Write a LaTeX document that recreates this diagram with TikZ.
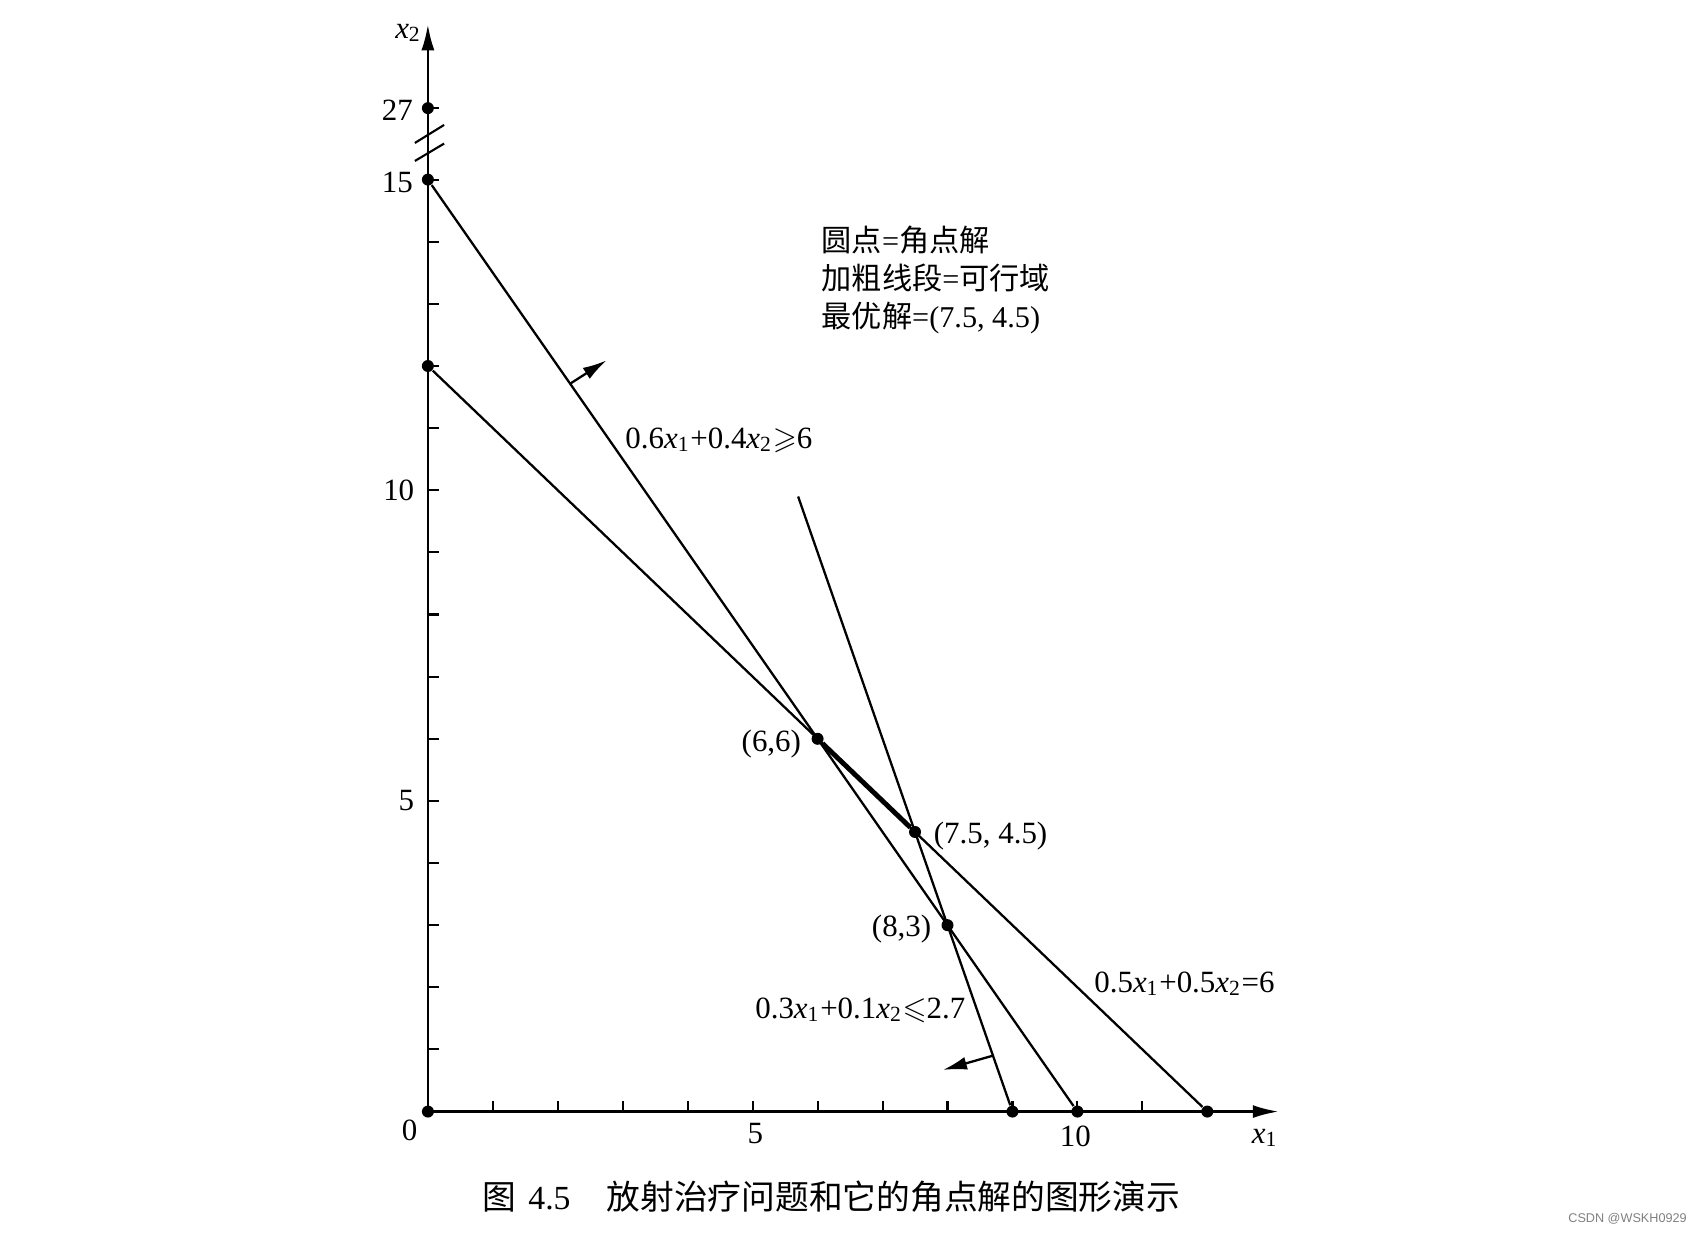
\documentclass[tikz,border=0pt]{standalone}
\usepackage{amssymb}
\usepackage{fontspec}
\setmainfont{Liberation Serif}
\newfontfamily\cjk{Noto Sans CJK SC}
\newfontfamily\wmfont{Liberation Sans}
\usetikzlibrary{calc, arrows.meta}
\newcommand{\xv}[1]{\textit{x}\textsubscript{#1}}

\begin{document}
\begin{tikzpicture}[x=0.6495cm, y=0.6213cm,
        dot/.style={circle, fill, inner sep=0pt, minimum size=0.12cm},
        lbl/.style={font=\fontsize{8.8}{10}\selectfont, inner sep=0pt},
        cline/.style={line width=0.65pt},
        axis/.style={line width=0.75pt, -{Latex[length=2.6mm,width=1.3mm]}},
        nrm/.style={line width=0.65pt, -{Latex[length=2.4mm,width=1.3mm]}}]
    \useasboundingbox (-6.588,-1.948) rectangle (19.632,17.891);
    % axes
    \coordinate (o) at (0,0);
    \coordinate (xend) at (13.1,0);
    \coordinate (yend) at (0,17.5);
    \draw[axis] (o)--(xend);
    \draw[axis] (o)--(yend);
    \foreach \i in {1,...,11} \draw[line width=0.6pt] (\i,0)--++(0,0.11cm);
    \foreach \i in {1,...,15} \draw[line width=0.6pt] (0,\i)--++(0.11cm,0);
    \draw[line width=0.6pt] (0,16.15)--++(0.11cm,0);
    % axis break
    \draw[line width=0.6pt] (-0.2,15.59)--(0.25,15.88);
    \draw[line width=0.6pt] (-0.2,15.30)--(0.25,15.58);
    % axis labels
    \node[lbl] (x2lab) at (-0.30,17.36) {\textit{x}\textsubscript{2}};
    \node[lbl] (x1lab) at (12.89,-0.42) {\textit{x}\textsubscript{1}};
    \node[lbl] (t0) at (-0.28,-0.31) {0};
    \node[lbl] (t5x) at (5.04,-0.35) {5};
    \node[lbl] (t10x) at (9.97,-0.40) {10};
    \node[lbl, anchor=east] (t5y) at (-0.2,5) {5};
    \node[lbl, anchor=east] (t10y) at (-0.2,10) {10};
    \node[lbl, anchor=east] (t15y) at (-0.22,14.95) {15};
    \node[lbl, anchor=east] (t27y) at (-0.22,16.12) {27};
    % corner points
    \node[dot] (a0) at (0,0) {};
    \node[dot] (a12) at (0,12) {};
    \node[dot] (a15) at (0,15) {};
    \node[dot] (a27) at (0,16.15) {};
    \node[dot] (b9) at (9,0) {};
    \node[dot] (b10) at (10,0) {};
    \node[dot] (b12) at (12,0) {};
    \node[dot] (p66) at (6,6) {};
    \node[dot] (p7545) at (7.5,4.5) {};
    \node[dot] (p83) at (8,3) {};
    \coordinate (c3top) at (5.7,9.9);
    % constraint lines
    \draw[cline] (a15)--(b10);
    \draw[cline] (a12)--(b12);
    \draw[cline] (c3top)--(b9);
    \draw[line width=1.4pt] (p66)--(p7545);
    % normals
    \coordinate (n1) at (2.19,11.715);
    \coordinate (n1tip) at (2.75,12.09);
    \draw[nrm] (n1)--(n1tip);
    \coordinate (n3) at (8.7,0.9);
    \coordinate (n3tip) at (7.93,0.67);
    \draw[nrm] (n3)--(n3tip);
    % labels
    \node[lbl, anchor=west] (e1) at (3.03,10.81) {0.6\xv{1}+0.4\xv{2}$\geqslant$6};
    \node[lbl, anchor=west] (e2) at (10.25,2.06) {0.5\xv{1}+0.5\xv{2}=6};
    \node[lbl, anchor=west] (e3) at (5.03,1.63) {0.3\xv{1}+0.1\xv{2}$\leqslant$2.7};
    \node[lbl, anchor=east] (l66) at (5.755,5.92) {(6,6)};
    \node[lbl, anchor=west] (l7545) at (7.78,4.44) {(7.5, 4.5)};
    \node[lbl, anchor=east] (l83) at (7.76,2.94) {(8,3)};
    \node[anchor=west, align=left, inner sep=0pt, font=\fontsize{8.6}{10.8}\selectfont] (key) at (6.05,13.38)
        {{\cjk 圆点}={\cjk 角点解}\\ {\cjk 加粗线段}={\cjk 可行域}\\ {\cjk 最优解}=(7.5, 4.5)};
    % caption
    \node[anchor=west, inner sep=0pt, font=\fontsize{9.6}{11}\selectfont] (cap) at (0.833,-1.37)
        {{\cjk 图}\hspace{1.2mm}4.5\hspace{3.6mm}{\cjk 放射治疗问题和它的角点解的图形演示}};
    \node[font=\wmfont\fontsize{3.6}{4}\selectfont, text=gray] (wm) at (18.47,-1.72) {CSDN @WSKH0929};
\end{tikzpicture}
\end{document}
